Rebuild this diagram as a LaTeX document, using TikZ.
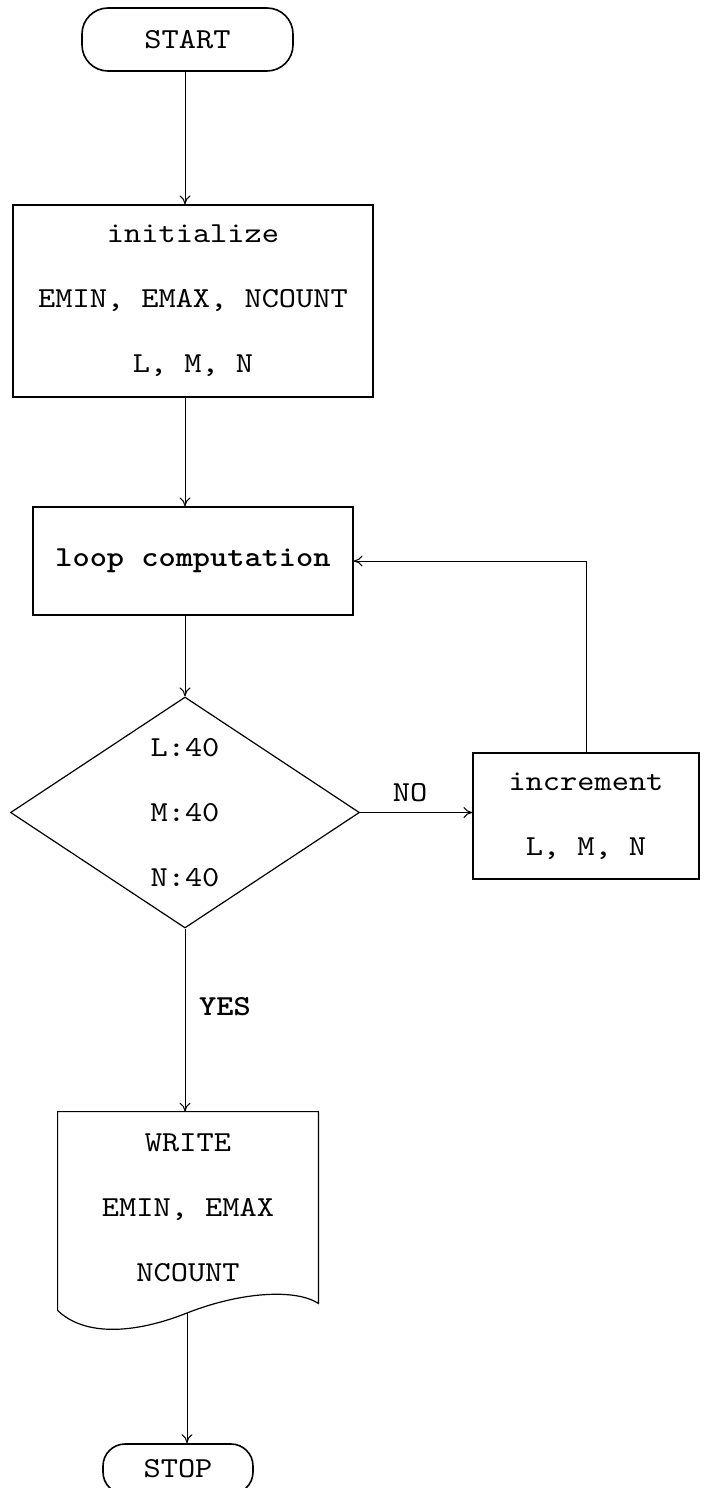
\documentclass[tikz,border=0pt]{standalone}
\usepackage{fontspec}
\setmonofont{lmmono10-regular}[Extension=.otf, BoldFont=lmmonolt10-bold, FakeStretch=1.13]
\usepackage{tikz}
\usetikzlibrary{arrows.meta,calc,shapes.geometric}

\begin{document}
\begin{tikzpicture}[
    x=0.5pt, y=-0.5pt,
    every node/.style={font=\ttfamily\fontsize{14.5}{32.5}\selectfont, align=center, inner sep=0pt},
    term/.style={draw, line width=0.8pt, rounded corners=13pt},
    procbox/.style={draw, line width=0.6pt, rectangle},
    decision/.style={draw, line width=0.6pt, diamond, shape aspect=1.5},
    arr/.style={line width=0.5pt, -{To[length=4.5pt,width=5.5pt]}}
]
\useasboundingbox (0,0) rectangle (703,1488);
\coordinate (col) at (185,0);

\node[term, minimum width=105.5pt, minimum height=31.5pt] (start) at (187.5,39.5) {START};
\node[procbox, minimum width=180pt, minimum height=96pt] (init) at (193,301)
    {initialize\\EMIN, EMAX, NCOUNT\\L, M, N};
\node[procbox, minimum width=160pt, minimum height=54pt] (loop) at (193,561) {\textbf{loop computation}};
\node[decision, minimum width=174.5pt, minimum height=115.5pt] (test) at (185,812.5) {L:40\\M:40\\N:40};
\node[procbox, minimum width=113pt, minimum height=63pt] (inc) at (586,816) {increment\\L, M, N};
\node[minimum width=130pt, minimum height=95.5pt] (write) at (188,1207.5) {WRITE\\EMIN, EMAX\\NCOUNT};
\node[term, rounded corners=11pt, minimum width=75pt, minimum height=25pt] (stop) at (178,1469) {STOP};
\node (no) at (410,793) {NO};
\node (yes) at (225,1007) {\textbf{YES}};

% document symbol for the output
\coordinate (wavemid) at (187,1313);
\draw[line width=0.6pt] ($(write.south west)+(0,7)$) -- (write.north west) -- (write.north east) -- (write.south east)
    .. controls +(-23,-15) and +(53,-21) .. (wavemid)
    .. controls +(-53,21) and +(27,26) .. ($(write.south west)+(0,7)$);

% connectors
\draw[arr] (start.south -| col) -- (init.north -| col);
\draw[arr] (init.south -| col) -- (loop.north -| col);
\draw[arr] (loop.south -| col) -- (test.north);
\draw[arr] (test.east) -- (test.east -| inc.west);
\draw[arr] (inc.north) |- (loop.east);
\draw[arr] (test.south) -- (write.north -| col);
\draw[arr] (wavemid) -- (wavemid |- stop.north);
\end{tikzpicture}
\end{document}
